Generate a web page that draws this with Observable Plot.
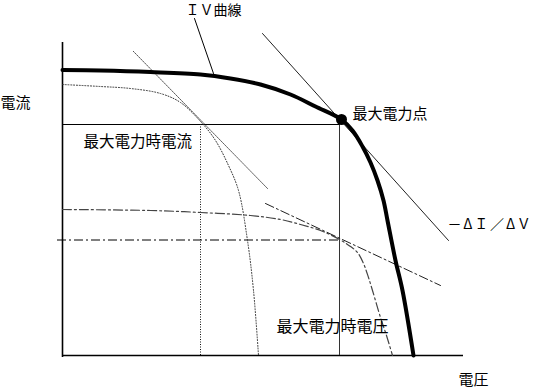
<!DOCTYPE html>
<html>
<head>
<meta charset="utf-8">
<script src="https://cdn.jsdelivr.net/npm/d3@7"></script>
<script src="https://cdn.jsdelivr.net/npm/@observablehq/plot@0.6"></script>
<style>
  html, body { margin: 0; padding: 0; background: #fff; }
  svg { overflow: visible; }
</style>
</head>
<body>
<div id="chart"></div>
<script>
// Arbitrary units: V (voltage), I (current)
// Main IV curve
const ivV = [0, 3.8, 8.8, 13.8, 16.8, 19.8, 22.8, 25.3, 27.9, 29.0, 30.0, 30.8, 31.5, 32.1, 32.5, 33.3, 34.0, 35.1];
const ivI = [28.55, 28.5, 28.35, 28.1, 27.7, 27.1, 26.1, 24.9, 23.6, 22.5, 20.9, 19.3, 17.5, 15.5, 13.5, 9.5, 6.5, 0];
// Dotted curve (lower-current IV curve)
const dotV = [0, 3.8, 6.8, 9.8, 11.8, 13.9, 15.3, 16.6, 17.6, 18.5, 19.1, 19.6];
const dotI = [27.1, 26.9, 26.7, 26.2, 25.3, 23.3, 21.5, 19.0, 16.5, 11.5, 6.5, 0];
// Dotted tangent line
const dotTanV = [7.1, 20.5];
const dotTanI = [30.4, 16.7];
// Dash-dot curve
const ddV = [0, 8.8, 13.8, 18.8, 21.8, 23.8, 25.8, 27.7, 28.8, 29.5, 30.1, 30.6, 31.0, 31.8, 32.4, 33.0];
const ddI = [14.6, 14.5, 14.3, 14.0, 13.6, 13.1, 12.5, 11.6, 10.9, 10.3, 9.2, 7.8, 6.5, 3.8, 2.0, 0];
// Dash-dot tangent line
const ddTanV = [20.3, 37.8];
const ddTanI = [15.2, 7.0];
// -ΔI/ΔV tangent at maximum power point
const tanV = [20.0, 38.6];
const tanI = [32.2, 11.5];
// Maximum power point
const mppV = 27.9, mppI = 23.6;
const vmp = 27.7, imp = 23.1;
const vDotted = 13.8;     // vertical dotted line
const iDashDot = 11.55;   // horizontal dash-dot line
// Labels
const labels = ["電流", "電圧", "ＩＶ曲線", "最大電力点", "最大電力時電流", "最大電力時電圧", "－ΔＩ／ΔＶ"];

const toPts = (xs, ys) => xs.map((v, i) => ({V: v, I: ys[i]}));

const font = "'Noto Sans CJK JP', 'Noto Sans', sans-serif";

const chart = Plot.plot({
  width: 534,
  height: 389,
  marginLeft: 62,
  marginRight: 71,
  marginTop: 42,
  marginBottom: 34,
  x: {domain: [0, 40.1], axis: null},
  y: {domain: [0, 31.3], axis: null},
  style: {fontFamily: font, background: "#fff"},
  marks: [
    // axes
    Plot.ruleX([0], {y1: -0.2, y2: 31.3, stroke: "#000", strokeWidth: 1.6}),
    Plot.ruleY([0], {x1: 0, x2: 40.1, stroke: "#000", strokeWidth: 1.6}),
    // maximum power rectangle
    Plot.ruleY([imp], {x1: 0, x2: vmp, stroke: "#000", strokeWidth: 1.2}),
    Plot.ruleX([vmp], {y1: 0, y2: imp, stroke: "#333", strokeWidth: 1}),
    // dotted vertical
    Plot.ruleX([vDotted], {y1: 0, y2: imp, stroke: "#111", strokeWidth: 1, strokeDasharray: "1,1.5"}),
    // dash-dot horizontal
    Plot.ruleY([iDashDot], {x1: -0.5, x2: vmp, stroke: "#000", strokeWidth: 1, strokeDasharray: "9,3,2,3"}),
    // dotted curve and tangent
    Plot.line(toPts(dotV, dotI), {x: "V", y: "I", curve: "catmull-rom", stroke: "#333", strokeWidth: 1, strokeDasharray: "1,1.8"}),
    Plot.line(toPts(dotTanV, dotTanI), {x: "V", y: "I", stroke: "#222", strokeWidth: 1, strokeDasharray: "1,1.8"}),
    // dash-dot curve and tangent
    Plot.line(toPts(ddV, ddI), {x: "V", y: "I", curve: "catmull-rom", stroke: "#444", strokeWidth: 1.2, strokeDasharray: "9,3,2,3"}),
    Plot.line(toPts(ddTanV, ddTanI), {x: "V", y: "I", stroke: "#222", strokeWidth: 1, strokeDasharray: "9,3,2,3"}),
    // tangent -ΔI/ΔV
    Plot.line(toPts(tanV, tanI), {x: "V", y: "I", stroke: "#222", strokeWidth: 1}),
    // IV curve
    Plot.line(toPts(ivV, ivI), {x: "V", y: "I", curve: "catmull-rom", stroke: "#000", strokeWidth: 4}),
    // max power point
    Plot.dot([{V: mppV, I: mppI}], {x: "V", y: "I", r: 5.5, fill: "#000", stroke: "none"}),
    // leader line for IV curve label
    Plot.line([{V: 13.2, I: 33.7}, {V: 15.1, I: 28.2}], {x: "V", y: "I", stroke: "#000", strokeWidth: 1}),
    // labels
    Plot.text([labels[0]], {x: -6.2, y: 25.2, text: d => d, textAnchor: "start", lineAnchor: "middle", fontSize: 15, fill: "#000"}),
    Plot.text([labels[1]], {x: 39.6, y: -2.5, text: d => d, textAnchor: "start", lineAnchor: "middle", fontSize: 15, fill: "#000"}),
    Plot.text([labels[2]], {x: 12.3, y: 34.5, text: d => d, textAnchor: "start", lineAnchor: "middle", fontSize: 14, fill: "#000"}),
    Plot.text([labels[3]], {x: 29.0, y: 24.1, text: d => d, textAnchor: "start", lineAnchor: "middle", fontSize: 15, fill: "#000"}),
    Plot.text([labels[4]], {x: 2.1, y: 21.3, text: d => d, textAnchor: "start", lineAnchor: "middle", fontSize: 15.5, fill: "#000"}),
    Plot.text([labels[5]], {x: 21.4, y: 2.9, text: d => d, textAnchor: "start", lineAnchor: "middle", fontSize: 16, fill: "#000"}),
    Plot.text([labels[6]], {x: 38.5, y: 13.1, text: d => d, textAnchor: "start", lineAnchor: "middle", fontSize: 14, fill: "#000"})
  ]
});
// widen the ΔI/ΔV label so its glyphs spread like the reference
d3.select(chart).selectAll("text").filter(function() { return this.textContent.includes("Δ"); })
  .style("letter-spacing", "1.8px");
document.getElementById("chart").appendChild(chart);
</script>
</body>
</html>
